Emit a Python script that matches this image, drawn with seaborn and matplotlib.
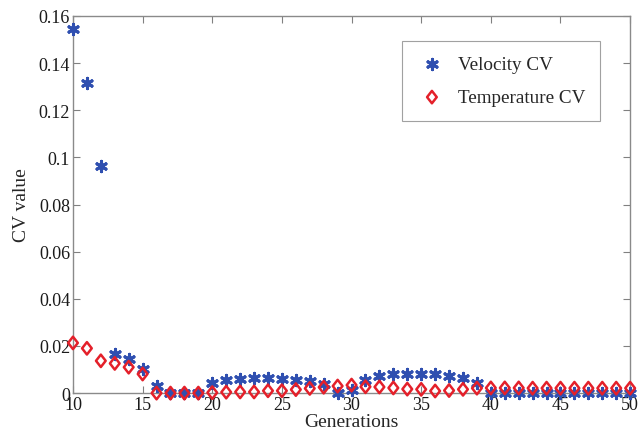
import numpy as np
import pandas as pd
import matplotlib
matplotlib.use("Agg")
import matplotlib.pyplot as plt
from matplotlib.path import Path
import seaborn as sns

generations = list(range(10, 51))

velocity_cv = [0.1545, 0.1316, 0.0963, 0.0168, 0.0143, 0.0101, 0.0030, 0.0, 0.0, 0.0,
               0.0043, 0.0054, 0.0061, 0.0063, 0.0062, 0.0061, 0.0056, 0.0050, 0.0038, 0.0,
               0.0012, 0.0055, 0.0074, 0.0080, 0.0083, 0.0083, 0.0079, 0.0074, 0.0062, 0.0042,
               0.0, 0.0, 0.0, 0.0, 0.0, 0.0, 0.0, 0.0, 0.0, 0.0, 0.0]

temperature_cv = [0.0213, 0.0190, 0.0137, 0.0126, 0.0110, 0.0081, 0.0, 0.0, 0.0, 0.0,
                  0.0002, 0.0004, 0.0005, 0.0005, 0.0010, 0.0010, 0.0015, 0.0020, 0.0025, 0.0030,
                  0.0034, 0.0027, 0.0026, 0.0022, 0.0017, 0.0016, 0.0009, 0.0011, 0.0016, 0.0021,
                  0.0022, 0.0022, 0.0022, 0.0021, 0.0021, 0.0021, 0.0021, 0.0021, 0.0021, 0.0021, 0.0021]

x_ticks = [10, 15, 20, 25, 30, 35, 40, 45, 50]
y_ticks = [0, 0.02, 0.04, 0.06, 0.08, 0.1, 0.12, 0.14, 0.16]
y_tick_labels = ["0", "0.02", "0.04", "0.06", "0.08", "0.1", "0.12", "0.14", "0.16"]

df = pd.DataFrame({
    "Generations": generations * 2,
    "CV": velocity_cv + temperature_cv,
    "Series": ["Velocity CV"] * len(generations) + ["Temperature CV"] * len(generations),
})

sns.set_theme(style="white")
plt.rcParams["font.family"] = ["Liberation Serif", "DejaVu Serif"]

fig = plt.figure(figsize=(6.43, 4.35), dpi=100)
ax = fig.add_axes([0.1135, 0.094, 0.8665, 0.867])

blue = "#2f4fb0"
red = "#e4202a"

# slightly elongated diamond marker
diamond = Path([(0, 1), (0.78, 0), (0, -1), (-0.78, 0), (0, 1)],
               [Path.MOVETO, Path.LINETO, Path.LINETO, Path.LINETO, Path.CLOSEPOLY])

vel = df[df["Series"] == "Velocity CV"]
tmp = df[df["Series"] == "Temperature CV"]

sns.scatterplot(data=vel, x="Generations", y="CV", ax=ax, marker=(6, 2, 0), s=55,
                color=blue, edgecolor=blue, linewidth=2.2, label="Velocity CV", clip_on=False, zorder=3)
sns.scatterplot(data=tmp, x="Generations", y="CV", ax=ax, marker=diamond, s=80,
                facecolor="none", edgecolor=red, linewidth=1.8, label="Temperature CV", clip_on=False, zorder=4)

ax.set_xlim(10, 50)
ax.set_ylim(0, 0.16)
ax.set_xticks(x_ticks)
ax.set_yticks(y_ticks)
ax.set_yticklabels(y_tick_labels)
ax.set_xlabel("Generations", fontsize=14, labelpad=0)
ax.set_ylabel("CV value", fontsize=14, labelpad=6)

ax.tick_params(direction="in", length=5, width=0.8, colors="#808080", labelcolor="#1a1a1a",
               labelsize=13, top=True, right=True, bottom=True, left=True, pad=2)
for sp in ax.spines.values():
    sp.set_color("#8a8a8a")
    sp.set_linewidth(1.0)

leg = ax.legend(loc="upper right", bbox_to_anchor=(0.964, 0.96), fontsize=13.8, frameon=True,
                fancybox=False, edgecolor="#8a8a8a", borderpad=0.8, labelspacing=0.8,
                handletextpad=0.6, handlelength=1.5)
leg.get_frame().set_linewidth(0.8)

fig.savefig("out.png", dpi=100)
